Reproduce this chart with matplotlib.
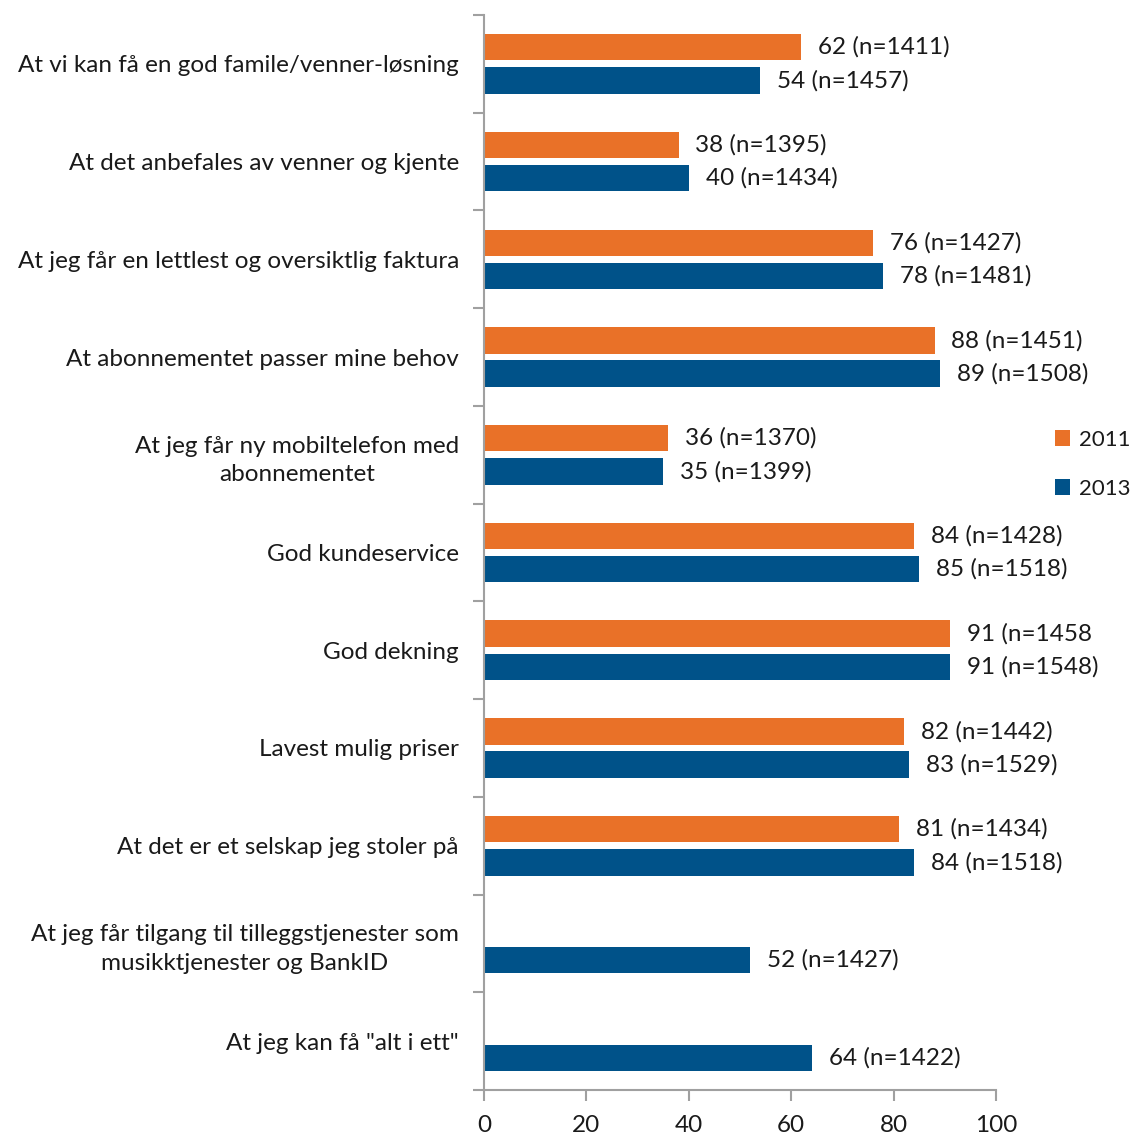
import matplotlib.pyplot as plt
import numpy as np

categories = [
    "At vi kan få en god famile/venner-løsning",
    "At det anbefales av venner og kjente",
    "At jeg får en lettlest og oversiktlig faktura",
    "At abonnementet passer mine behov",
    "At jeg får ny mobiltelefon med\nabonnementet",
    "God kundeservice",
    "God dekning",
    "Lavest mulig priser",
    "At det er et selskap jeg stoler på",
    "At jeg får tilgang til tilleggstjenester som\nmusikktjenester og BankID",
    'At jeg kan få "alt i ett"',
]
values_2011 = [62, 38, 76, 88, 36, 84, 91, 82, 81]
labels_2011 = ["62 (n=1411)", "38 (n=1395)", "76 (n=1427)", "88 (n=1451)",
               "36 (n=1370)", "84 (n=1428)", "91 (n=1458", "82 (n=1442)",
               "81 (n=1434)"]
values_2013 = [54, 40, 78, 89, 35, 85, 91, 83, 84, 52, 64]
labels_2013 = ["54 (n=1457)", "40 (n=1434)", "78 (n=1481)", "89 (n=1508)",
               "35 (n=1399)", "85 (n=1518)", "91 (n=1548)", "83 (n=1529)",
               "84 (n=1518)", "52 (n=1427)", "64 (n=1422)"]
x_ticks = [0, 20, 40, 60, 80, 100]

ORANGE = "#E97128"
BLUE = "#005289"
GREY = "#A0A0A0"
TEXT = "#1A1A1A"
FS = 17.5

plt.rcParams["font.family"] = ["Lato", "DejaVu Sans"]

fig = plt.figure(figsize=(11.38, 11.35), dpi=100)
ax = fig.add_axes([0.4253, 0.0396, 0.4499, 0.9472])

y = np.arange(len(categories))
off, h = 0.17, 0.27
y11 = y[:len(values_2011)] - off
y13 = y + off
ax.barh(y11, values_2011, height=h, color=ORANGE, label="2011")
ax.barh(y13, values_2013, height=h, color=BLUE, label="2013")

for yy, v, s in zip(y11, values_2011, labels_2011):
    ax.text(v + 3.3, yy, s, va="center", ha="left", fontsize=FS, color=TEXT)
for yy, v, s in zip(y13, values_2013, labels_2013):
    ax.text(v + 3.3, yy, s, va="center", ha="left", fontsize=FS, color=TEXT)

ax.set_xlim(0, 100)
ax.set_ylim(len(categories) - 0.5, -0.5)
ax.set_xticks(x_ticks)
ax.set_yticks(y)
ax.set_yticklabels(categories, fontsize=FS, color=TEXT,
                   multialignment="center", linespacing=1.45)
ax.set_yticks(np.arange(len(categories) + 1) - 0.5, minor=True)
ax.tick_params(axis="y", which="major", length=0, pad=18)
ax.tick_params(axis="y", which="minor", length=8, width=1.5, color=GREY)
ax.tick_params(axis="x", length=8, width=1.5, color=GREY, labelsize=FS,
               labelcolor=TEXT, pad=10)

for side in ("top", "right"):
    ax.spines[side].set_visible(False)
for side in ("left", "bottom"):
    ax.spines[side].set_color(GREY)
    ax.spines[side].set_linewidth(1.5)

fig.legend(loc="center left", bbox_to_anchor=(0.927, 0.591), frameon=False,
           fontsize=16, handlelength=0.7, handleheight=0.7, handletextpad=0.4,
           labelspacing=1.3, labelcolor=TEXT, borderpad=0, borderaxespad=0)

fig.savefig("out.png", dpi=100)
